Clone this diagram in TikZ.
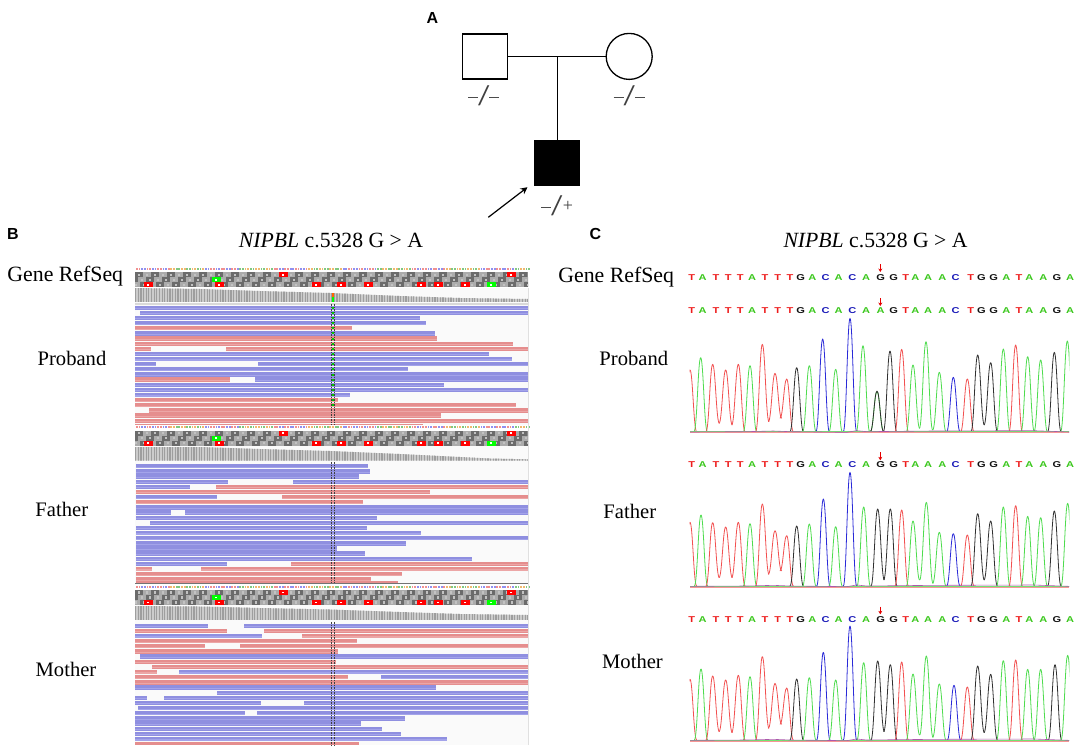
\documentclass[tikz,border=0pt]{standalone}
\usepackage{fontspec}
\setmainfont{Liberation Serif}
\newfontfamily\hv{Liberation Sans}
\usetikzlibrary{arrows.meta}
\definecolor{rdb}{HTML}{8F8FE0}
\definecolor{rdr}{HTML}{E58E8E}
\definecolor{rdbl}{HTML}{A3A3EA}
\definecolor{rdrl}{HTML}{ECA6A6}
\definecolor{base0}{HTML}{F09090}
\definecolor{base1}{HTML}{80C880}
\definecolor{base2}{HTML}{9090F0}
\definecolor{base3}{HTML}{F0B870}
\definecolor{tr}{HTML}{F25050}
\definecolor{tg}{HTML}{4EDC4E}
\definecolor{tb}{HTML}{2A2AD8}
\definecolor{tk}{HTML}{303030}
\definecolor{lr}{HTML}{EE1C1C}
\definecolor{lg}{HTML}{3CC81E}
\definecolor{lb}{HTML}{1818B8}
\definecolor{lk}{HTML}{111111}
\tikzset{
  ped/.style={draw=black,line width=1.3pt,minimum size=45pt,inner sep=0pt,outer sep=0pt},
  geno/.style={text=black!75,inner sep=0pt,font=\fontsize{18}{18}\selectfont},
  title/.style={inner sep=0pt,anchor=base,font=\fontsize{21.7}{22}\selectfont},
  lab/.style={inner sep=0pt,anchor=base,font=\fontsize{20.6}{22}\selectfont},
  labg/.style={inner sep=0pt,anchor=base,font=\fontsize{21.8}{22}\selectfont},
  pan/.style={inner sep=0pt,anchor=base,font=\hv\bfseries\fontsize{16}{16}\selectfont},
  seq/.style={inner sep=0pt,font=\hv\bfseries\fontsize{8.5}{8.5}\selectfont},
  mut/.style={draw=red!90!black,line width=1pt,-{Stealth[length=3.5pt,width=4pt]}},
  trace/.style={line width=.8pt,line join=round}
}
\newcommand{\minusbar}{$\vcenter{\hbox{\textcolor{black!70}{\rule{10pt}{0.8pt}}}}$}
\newcommand{\slashmark}{\raisebox{-4pt}{\fontsize{24}{24}\selectfont\scalebox{1.7}[1.25]{/}}}
% sequence row: y, letter at the 16th position
\newcommand{\seqrow}[2]{%
  \foreach \zx/\ch/\co in {35/T/lr,68/A/lg,108/T/lr,145/T/lr,181/T/lr,216/A/lg,255/T/lr,293/T/lr,330/T/lr,362/G/lk,397/A/lg,437/C/lb,476/A/lg,517/C/lb,558/A/lg,641/G/lk,677/T/lr,706/A/lg,744/A/lg,787/A/lg,827/C/lb,872/T/lr,904/G/lk,941/G/lk,979/A/lg,1017/T/lr,1048/A/lg,1090/A/lg,1131/G/lk,1170/A/lg}{%
    \node[seq,text=\co] at ({680+\zx/3},#1) {\scalebox{1.3}[1]{\ch}};}%
  \if#2A\node[seq,text=lg] at ({680+602/3},#1) {\scalebox{1.3}[1]{A}};%
  \else\node[seq,text=lk] at ({680+602/3},#1) {\scalebox{1.3}[1]{G}};\fi}
% trace: yoffset so that px = yoff + z/3
\newcommand{\peaks}[2]{%
  \begin{scope}[shift={(680,#1)},x=.33333pt,y=-.33333pt]
    \clip (29,0) rectangle (1168,700);
    \foreach \c/\x/\t/\L/\R in {#2}{%
      \draw[trace,\c] ({\x-20},\L) .. controls ({\x-11},\L) and ({\x-8},\t) .. (\x,\t)
        .. controls ({\x+8},\t) and ({\x+11},\R) .. ({\x+20},\R);}
  \end{scope}}
\newcommand{\noise}[2]{%
  \begin{scope}[shift={(680,#1)},x=.33333pt,y=-.33333pt]
    \draw[tr!60,line width=.35pt] (30,#2+2) -- (1168,#2+2);
    \draw[tg!80,line width=.5pt] (30,#2) -- (1168,#2);
    \draw[violet!65,line width=.6pt] (30,#2+1) -- (200,#2) -- (280,#2-2) -- (330,#2) -- (500,#2+2) -- (530,#2-3) -- (560,#2) -- (760,#2-2) -- (1060,#2-3) -- (1168,#2+1);
  \end{scope}}
% IGV header: base-letter y, first track y
\newcommand{\igvhead}[2]{%
  \foreach \i in {0,...,148}{%
    \pgfmathtruncatemacro\k{mod(\i*7+mod(\i,13)*mod(\i,13),4)}%
    \fill[base\k] ({136+\i*2.65},#1-1.1) rectangle +(1.8,2.2);}%
  \begin{scope}
  \clip (135,#2) rectangle (528,#2+15);
  \fill[black!45] (135,#2) rectangle (528,#2+15);
  \foreach \row/\off in {0/0,1/2.7,2/5.4}{%
    \foreach \i in {-1,...,48}{%
      \pgfmathtruncatemacro\k{mod(\i+\row+2,2)}%
      \pgfmathsetmacro\xx{135+\off+\i*8}%
      \ifnum\k=0\fill[black!58] (\xx,#2+\row*5) rectangle +(8,5);\else\fill[black!33] (\xx,#2+\row*5) rectangle +(8,5);\fi
      \fill[black!24] ({\xx+3},#2+\row*5+1.4) rectangle +(2,2.2);}}
  \end{scope}
  \foreach \xa/\row/\c in {279/0/red,507/0/red,212/1/green,144/2/red,215/2/red,312/2/red,337/2/red,364/2/red,417/2/red,434/2/red,461/2/red,487/2/green}{%
    \fill[\c] (\xa,#2+\row*5) rectangle +(8.7,5);
    \fill[white] ({\xa+3.4},#2+\row*5+1.6) rectangle +(2,1.8);}}
\newcommand{\cov}[3]{%
  \begin{scope}
    \clip #3;
    \fill[black!20] (135,#1) rectangle (528,#2);
    \foreach \i in {0,...,148}{\fill[black!38] ({135+\i*2.65},#1) rectangle +(1.2,#2-#1);}
  \end{scope}}
\newcommand{\reads}[3]{%
  \foreach \n/\a/\b/\k in {#3}{%
    \fill[rd\k] (\a,{#1+(\n-1)*#2-2.15}) rectangle (\b,{#1+(\n-1)*#2+2.15});
    \fill[rd\k l] (\a,{#1+(\n-1)*#2+.4}) rectangle (\b,{#1+(\n-1)*#2+1.5});}}
\begin{document}
\begin{tikzpicture}[x=1pt,y=-1pt]
\useasboundingbox (0,0) rectangle (1084,753);
\fill[white] (0,0) rectangle (1084,753);
% --- Panel A
\node[pan] (pA) at (432.5,23.3) {A};
\node[ped,rectangle,fill=white] (dad) at (484.7,56.4) {};
\node[ped,circle,fill=white,minimum size=46pt] (mum) at (629.2,56.4) {};
\node[ped,rectangle,fill=black] (son) at (557.2,163) {};
\draw[line width=1.3pt] (dad) -- (mum);
\coordinate (mid) at (557.2,56.4);
\draw[line width=1.3pt] (mid) -- (son);
\coordinate (ptail) at (488.3,217.3);
\coordinate (phead) at (527.5,187.2);
\draw[line width=1.2pt,-{Stealth[length=7pt,width=7pt]}] (ptail) -- (phead);
\node[geno] (g1) at (483.7,95.5) {\minusbar\slashmark\minusbar};
\node[geno] (g2) at (629.3,95.5) {\minusbar\slashmark\minusbar};
\node[geno] (g3) at (557,206) {\minusbar\slashmark\kern.5pt\raisebox{.5pt}{+}};
% --- Labels
\node[pan] (pB) at (13,239) {B};
\node[pan] (pC) at (595.5,239) {C};
\node[title] (tB) at (331,247) {\textit{NIPBL} c.5328 G > A};
\node[title] (tC) at (875.5,247) {\textit{NIPBL} c.5328 G > A};
\node[labg] (l1) at (65.3,281.7) {Gene RefSeq};
\node[lab] (l2) at (72,365.7) {Proband};
\node[lab] (l3) at (61.8,516) {Father};
\node[lab] (l4) at (66,676) {Mother};
\node[labg] (l5) at (616.2,282.3) {Gene RefSeq};
\node[lab] (l6) at (633.8,365.7) {Proband};
\node[lab] (l7) at (629.8,518.3) {Father};
\node[lab] (l8) at (632.5,668.3) {Mother};
% --- Panel B backgrounds
\fill[black!2] (135,288) rectangle (528,425);
\fill[black!2] (135,446) rectangle (528,583);
\fill[black!2] (135,605) rectangle (528,745);
% Proband
\igvhead{269.3}{272.3}
\cov{288}{302}{(135,288) -- (200,289) -- (260,291) -- (330,293) -- (400,296) -- (460,298) -- (528,299) -- (528,302) -- (135,302) -- cycle}
\fill[black!15] (135,302.5) rectangle (528,304.5);
\reads{307.7}{5.135}{1/135/528/b,2/140/528/b,3/135/420/b,4/135/426/b,5/135/352/r,6/135/435/b,7/135/437/r,8/135/513/r,9/135/151/r,9/226/528/r,10/135/489/b,11/135/512/b,12/135/156/b,12/258/528/b,13/135/408/b,14/135/528/b,15/135/230/r,15/255/528/b,16/135/444/b,17/135/528/b,18/135/350/b,19/135/338/r,20/135/516/r,21/149/528/r,22/135/441/r,23/135/528/r}
\fill[rdr] (135,423.5) rectangle (423,425);
\foreach \n in {0,...,19}{\fill[green!80!black] (332,{306.8+\n*5.135}) rectangle +(1.7,2);}
\draw[black!75,line width=.7pt,dash pattern=on 1.5pt off 1pt] (331.2,304) -- (331.2,425);
\draw[black!75,line width=.7pt,dash pattern=on 1.5pt off 1pt] (334.5,304) -- (334.5,425);
\fill[orange!80!red] (331.8,293) rectangle (333.8,297);
\fill[green] (331.8,297) rectangle (333.8,302);
% Father
\igvhead{427.3}{430.7}
\cov{446.7}{460.7}{(135,446.7) -- (200,447) -- (260,449) -- (330,451) -- (400,454) -- (440,456) -- (490,458.5) -- (528,459.3) -- (528,460.7) -- (135,460.7) -- cycle}
\reads{466.3}{5.136}{1/136/368/b,2/136/370/b,3/136/359/b,4/136/228/b,4/293/528/b,5/136/190/b,5/216/528/r,6/136/430/r,7/136/217/b,7/282/528/r,8/136/363/r,9/136/528/b,10/136/171/b,10/185/528/b,11/136/377/b,12/150/528/b,13/136/367/b,14/136/421/b,15/136/528/b,16/136/406/b,17/136/337/b,18/136/365/b,19/136/472/b,20/136/227/b,20/291/528/r,21/136/152/r,21/201/528/r,22/136/402/r,23/136/371/r}
\fill[rdr] (136,581) rectangle (398,583);
\draw[black!75,line width=.7pt,dash pattern=on 1.5pt off 1pt] (331.7,462) -- (331.7,584);
\draw[black!75,line width=.7pt,dash pattern=on 1.5pt off 1pt] (334.8,462) -- (334.8,584);
\fill[black!55] (135,583.3) rectangle (528,584.2);
% Mother
\igvhead{586.7}{590}
\cov{606}{620}{(135,606) -- (200,606.5) -- (260,608) -- (330,609.5) -- (400,612) -- (460,614) -- (528,615) -- (528,620) -- (135,620) -- cycle}
\reads{625.7}{5.15}{1/135/208/b,1/244/528/b,2/135/227/r,2/264/528/r,3/135/262/b,3/302/528/r,4/135/357/r,5/135/205/r,5/240/528/r,6/135/338/r,7/140/528/b,8/135/336/r,9/152/528/r,10/135/157/r,10/179/528/b,11/135/348/r,11/381/528/b,12/135/528/r,13/135/436/b,14/217/528/b,15/135/147/b,15/164/528/b,16/135/261/b,16/304/528/b,17/138/528/b,18/135/245/b,18/257/528/b,19/135/405/b,20/135/361/b,21/135/382/b,22/135/401/b,23/135/447/b}
\fill[rdr] (135,742) rectangle (359,744.5);
\draw[black!75,line width=.7pt,dash pattern=on 1.5pt off 1pt] (331.3,622) -- (331.3,745);
\draw[black!75,line width=.7pt,dash pattern=on 1.5pt off 1pt] (334.3,622) -- (334.3,745);
\draw[black!12,line width=.6pt] (528,288) -- (528,745);
% --- Panel C sequences
\seqrow{277.3}{G}
\seqrow{311}{A}
\seqrow{465}{G}
\seqrow{619.3}{G}
\coordinate (a1t) at (880.3,264.3); \coordinate (a1h) at (880.3,272);
\coordinate (a2t) at (880.3,298.3); \coordinate (a2h) at (880.3,306);
\coordinate (a3t) at (880.3,452.3); \coordinate (a3h) at (880.3,460.3);
\coordinate (a4t) at (880.3,606.7); \coordinate (a4h) at (880.3,614.3);
\draw[mut] (a1t) -- (a1h);
\draw[mut] (a2t) -- (a2h);
\draw[mut] (a3t) -- (a3h);
\draw[mut] (a4t) -- (a4h);
% --- Traces
\peaks{255}{tr/30/345/530/530,tg/62/308/530/530,tr/98/328/530/505,tr/137/345/505/510,tr/175/328/510/530,tg/210/332/530/530,tr/247/268/530/500,tr/285/355/500/490,tr/320/372/490/530,tk/350/338/530/530,tg/388/332/530/530,tb/428/252/530/530,tg/467/343/530/530,tb/510/190/530/530,tg/549/272/530/530,tg/591/410/530/530,tk/591/408/530/530,tk/630/288/530/530,tr/665/283/530/530,tg/699/330/530/520,tg/738/260/520/525,tg/778/352/525/530,tb/820/367/530/530,tr/862/372/530/530,tk/893/300/530/510,tk/932/323/510/530,tg/970/282/530/530,tr/1007/270/530/530,tg/1043/305/530/530,tg/1082/315/530/530,tk/1123/292/530/530,tg/1162/258/530/530}
\peaks{445}{tr/30/232/423/423,tg/63/210/423/423,tr/98/233/423/398,tr/137/246/398/398,tr/175/232/398/423,tg/210/236/423/423,tr/247/177/423/388,tr/285/257/388/378,tr/320/272/378/423,tk/350/243/423/423,tg/388/237/423/423,tb/430/162/423/423,tg/467/245/423/423,tb/510/82/423/423,tg/551/186/423/423,tk/593/192/423/405,tk/631/192/405/423,tr/665/195/423/423,tg/699/228/423/405,tg/739/172/405/415,tg/778/262/415/423,tb/820/266/423/423,tr/862/270/423/423,tk/893/206/423/405,tk/932/228/405/423,tg/970/186/423/423,tr/1007/182/423/423,tg/1043/214/423/423,tg/1082/218/423/423,tk/1123/198/423/423,tg/1163/175/423/423}
\peaks{600}{tr/30/238/420/420,tg/63/207/420/420,tr/98/228/420/395,tr/137/240/395/398,tr/175/226/398/420,tg/210/230/420/420,tr/247/170/420/385,tr/285/250/385/373,tr/320/264/373/420,tk/350/237/420/420,tg/388/233/420/420,tb/430/157/420/420,tg/467/240/420/420,tb/510/78/420/420,tg/551/188/420/420,tk/593/183/420/395,tk/631/194/395/420,tr/665/186/420/420,tg/699/222/420/405,tg/739/168/405/412,tg/778/252/412/420,tb/822/256/420/420,tr/862/261/420/420,tk/893/198/420/398,tk/932/223/398/420,tg/970/182/420/420,tr/1007/180/420/420,tg/1043/208/420/420,tg/1082/208/420/420,tk/1125/194/420/420,tg/1163/166/420/420}
\noise{255}{530}
\noise{445}{423}
\noise{600}{420}
\end{tikzpicture}
\end{document}
